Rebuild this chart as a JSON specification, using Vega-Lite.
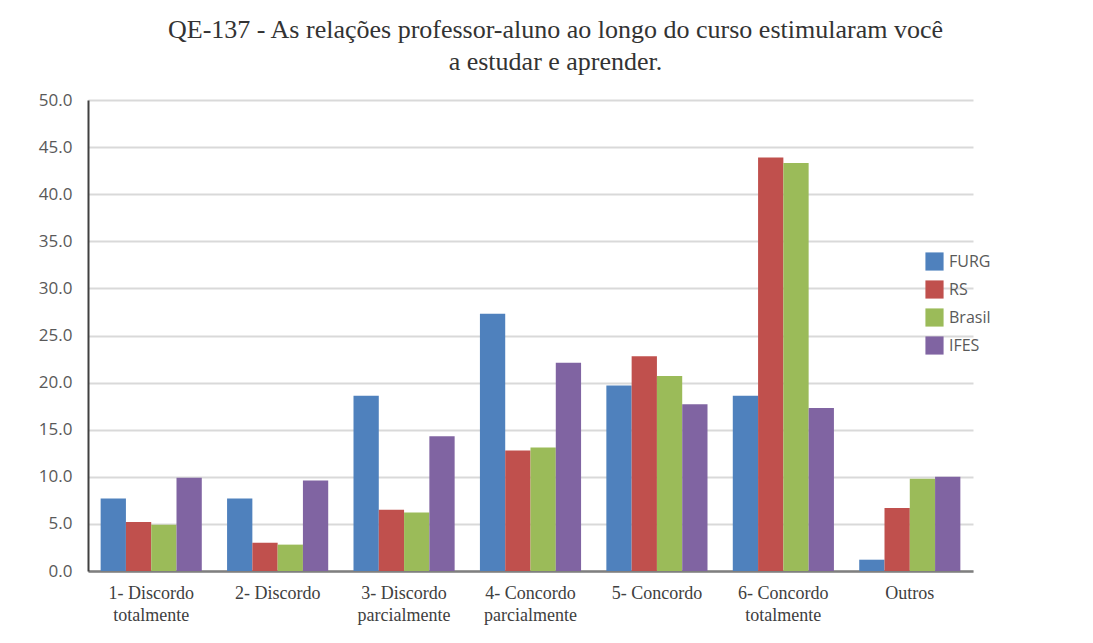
{
  "$schema": "https://vega.github.io/schema/vega-lite/v6.json",
  "autosize": {"type": "none"},
  "padding": {"left": 88, "top": 100, "right": 120, "bottom": 72},
  "width": 885,
  "height": 471,
  "background": "white",
  "title": {
    "text": ["QE-137 - As relações professor-aluno ao longo do curso estimularam você", "a estudar e aprender."],
    "font": "Liberation Serif",
    "fontSize": 26,
    "fontWeight": "normal",
    "color": "#333333",
    "anchor": "middle",
    "dx": 25,
    "offset": 16,
    "lineHeight": 32
  },
  "data": {
    "values": [
      {"cat": "1- Discordo\ntotalmente", "ord": 1, "serie": "FURG", "so": 1, "v": 7.7},
      {"cat": "1- Discordo\ntotalmente", "ord": 1, "serie": "RS", "so": 2, "v": 5.2},
      {"cat": "1- Discordo\ntotalmente", "ord": 1, "serie": "Brasil", "so": 3, "v": 4.9},
      {"cat": "1- Discordo\ntotalmente", "ord": 1, "serie": "IFES", "so": 4, "v": 9.9},
      {"cat": "2- Discordo", "ord": 2, "serie": "FURG", "so": 1, "v": 7.7},
      {"cat": "2- Discordo", "ord": 2, "serie": "RS", "so": 2, "v": 3.0},
      {"cat": "2- Discordo", "ord": 2, "serie": "Brasil", "so": 3, "v": 2.8},
      {"cat": "2- Discordo", "ord": 2, "serie": "IFES", "so": 4, "v": 9.6},
      {"cat": "3- Discordo\nparcialmente", "ord": 3, "serie": "FURG", "so": 1, "v": 18.6},
      {"cat": "3- Discordo\nparcialmente", "ord": 3, "serie": "RS", "so": 2, "v": 6.5},
      {"cat": "3- Discordo\nparcialmente", "ord": 3, "serie": "Brasil", "so": 3, "v": 6.2},
      {"cat": "3- Discordo\nparcialmente", "ord": 3, "serie": "IFES", "so": 4, "v": 14.3},
      {"cat": "4- Concordo\nparcialmente", "ord": 4, "serie": "FURG", "so": 1, "v": 27.3},
      {"cat": "4- Concordo\nparcialmente", "ord": 4, "serie": "RS", "so": 2, "v": 12.8},
      {"cat": "4- Concordo\nparcialmente", "ord": 4, "serie": "Brasil", "so": 3, "v": 13.1},
      {"cat": "4- Concordo\nparcialmente", "ord": 4, "serie": "IFES", "so": 4, "v": 22.1},
      {"cat": "5- Concordo", "ord": 5, "serie": "FURG", "so": 1, "v": 19.7},
      {"cat": "5- Concordo", "ord": 5, "serie": "RS", "so": 2, "v": 22.8},
      {"cat": "5- Concordo", "ord": 5, "serie": "Brasil", "so": 3, "v": 20.7},
      {"cat": "5- Concordo", "ord": 5, "serie": "IFES", "so": 4, "v": 17.7},
      {"cat": "6- Concordo\ntotalmente", "ord": 6, "serie": "FURG", "so": 1, "v": 18.6},
      {"cat": "6- Concordo\ntotalmente", "ord": 6, "serie": "RS", "so": 2, "v": 43.9},
      {"cat": "6- Concordo\ntotalmente", "ord": 6, "serie": "Brasil", "so": 3, "v": 43.3},
      {"cat": "6- Concordo\ntotalmente", "ord": 6, "serie": "IFES", "so": 4, "v": 17.3},
      {"cat": "Outros", "ord": 7, "serie": "FURG", "so": 1, "v": 1.2},
      {"cat": "Outros", "ord": 7, "serie": "RS", "so": 2, "v": 6.7},
      {"cat": "Outros", "ord": 7, "serie": "Brasil", "so": 3, "v": 9.8},
      {"cat": "Outros", "ord": 7, "serie": "IFES", "so": 4, "v": 10.0}
    ]
  },
  "mark": {"type": "bar"},
  "encoding": {
    "x": {
      "field": "cat",
      "type": "nominal",
      "sort": {"field": "ord"},
      "scale": {"paddingInner": 0.2, "paddingOuter": 0.1},
      "axis": {
        "title": null,
        "labelAngle": 0,
        "labelExpr": "split(datum.value, '\\n')",
        "labelFont": "Liberation Serif",
        "labelFontSize": 18,
        "labelColor": "#404040",
        "labelLineHeight": 22,
        "labelPadding": 13,
        "ticks": false,
        "domainColor": "#7f7f7f",
        "domainWidth": 2.5
      }
    },
    "xOffset": {"field": "serie", "type": "nominal", "sort": {"field": "so"}, "scale": {"paddingInner": 0, "paddingOuter": 0}},
    "y": {
      "field": "v",
      "type": "quantitative",
      "scale": {"domain": [0, 50]},
      "axis": {
        "title": null,
        "values": [0, 5, 10, 15, 20, 25, 30, 35, 40, 45, 50],
        "format": ".1f",
        "labelFont": "Open Sans",
        "labelFontSize": 17,
        "labelColor": "#595959",
        "labelPadding": 16,
        "ticks": false,
        "domainColor": "#404040",
        "domainWidth": 2,
        "gridColor": "#d9d9d9",
        "gridWidth": 2
      }
    },
    "color": {
      "field": "serie",
      "type": "nominal",
      "sort": ["FURG", "RS", "Brasil", "IFES"],
      "scale": {"domain": ["FURG", "RS", "Brasil", "IFES"], "range": ["#4F81BD", "#C0504D", "#9BBB59", "#8064A2"]},
      "legend": {
        "title": null,
        "orient": "none",
        "legendX": 837,
        "legendY": 152,
        "symbolType": "square",
        "symbolSize": 330,
        "symbolStrokeWidth": 0,
        "labelFont": "Open Sans",
        "labelFontSize": 16,
        "labelColor": "#595959",
        "labelOffset": 5,
        "rowPadding": 9,
        "padding": 0
      }
    }
  },
  "config": {"view": {"stroke": null}}
}
